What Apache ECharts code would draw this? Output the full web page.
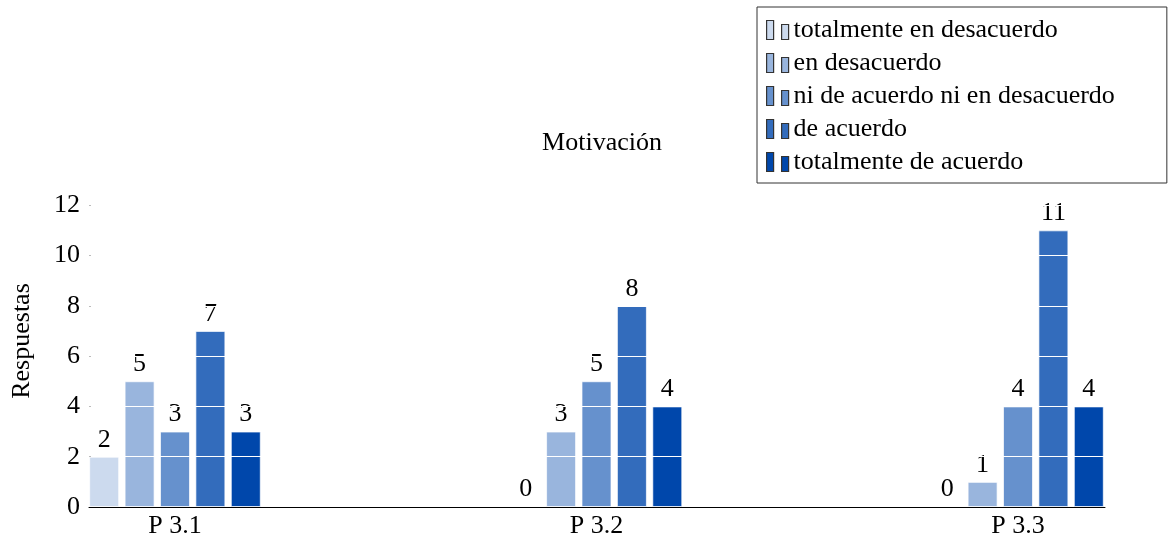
<!DOCTYPE html>
<html>
<head>
<meta charset="utf-8">
<script src="https://cdn.jsdelivr.net/npm/echarts@6/dist/echarts.min.js"></script>
<style>
  html, body { margin: 0; padding: 0; background: #fff; }
  #chart { width: 1168px; height: 543px; }
</style>
</head>
<body>
<div id="chart"></div>
<script>
const categories = ['P 3.1', 'P 3.2', 'P 3.3']
const seriesNames = [
  'totalmente en desacuerdo',
  'en desacuerdo',
  'ni de acuerdo ni en desacuerdo',
  'de acuerdo',
  'totalmente de acuerdo'
]
const totalDesacuerdo = [2, 0, 0]
const enDesacuerdo = [5, 3, 1]
const niNi = [3, 5, 4]
const deAcuerdo = [7, 8, 11]
const totalAcuerdo = [3, 4, 4]
const yTicks = [0, 2, 4, 6, 8, 10, 12]
const colors = ['#ccdaee', '#99b5dd', '#6691cd', '#336cbc', '#0047ab']

const font = "'Liberation Serif', 'DejaVu Serif', serif"
const values = [totalDesacuerdo, enDesacuerdo, niNi, deAcuerdo, totalAcuerdo]

// categories sit at x = 1, 2, 3 on a value axis so the outer margins can match
const series = values.map((vals, i) => ({
  name: seriesNames[i],
  type: 'bar',
  barWidth: 30,
  barGap: '18%',
  itemStyle: {
    color: colors[i],
    borderColor: 'rgba(255,255,255,0.7)',
    borderWidth: 1
  },
  label: {
    show: true,
    position: 'top',
    distance: 4,
    color: '#000',
    fontFamily: font,
    fontSize: 26
  },
  data: vals.map((v, j) => [j + 1, v])
}))

const legendIcon = 'path://M0,0h7v19h-7z M15,4h7v15h-7z'

const chart = echarts.init(document.getElementById('chart'))
chart.setOption({
  animation: false,
  textStyle: { fontFamily: font },
  title: {
    text: 'Motivación',
    left: 597,
    textAlign: 'center',
    top: 125,
    textStyle: { fontFamily: font, fontSize: 26, fontWeight: 'normal', color: '#000' }
  },
  legend: {
    orient: 'vertical',
    left: 757,
    top: 7,
    padding: [10, 52, 8, 9],
    itemGap: 7,
    itemWidth: 22,
    itemHeight: 19,
    icon: legendIcon,
    backgroundColor: '#fff',
    borderColor: '#333',
    borderWidth: 1,
    borderRadius: 0,
    textStyle: { fontFamily: font, fontSize: 26, color: '#000', lineHeight: 26 },
    data: seriesNames.map((n, i) => ({
      name: n,
      icon: legendIcon,
      itemStyle: { color: colors[i], borderColor: '#333', borderWidth: 1.2 }
    }))
  },
  grid: { left: 89, right: 63, top: 175, bottom: 36, containLabel: false },
  xAxis: {
    type: 'value',
    min: 0.796,
    max: 3.2064,
    z: 4,
    axisLine: { show: true, onZero: false, lineStyle: { color: '#000', width: 1 } },
    axisTick: { show: false },
    splitLine: { show: false },
    axisLabel: {
      customValues: [1, 2, 3],
      formatter: v => categories[Math.round(v) - 1] || '',
      margin: 6,
      color: '#000',
      fontFamily: font,
      fontSize: 26
    }
  },
  yAxis: {
    type: 'value',
    min: 0,
    max: 13.2,
    interval: 2,
    z: 3,
    name: 'Respuestas',
    nameLocation: 'middle',
    nameRotate: 90,
    nameGap: 54,
    nameTextStyle: { fontFamily: font, fontSize: 26, color: '#000' },
    axisLine: { show: false },
    axisTick: {
      show: true,
      inside: true,
      length: 2,
      customValues: yTicks,
      lineStyle: { color: '#bbb' }
    },
    axisLabel: {
      customValues: yTicks,
      margin: 9,
      color: '#000',
      fontFamily: font,
      fontSize: 26
    },
    splitLine: { show: true, lineStyle: { color: '#fff', width: 1 } }
  },
  series: series
})
</script>
</body>
</html>
